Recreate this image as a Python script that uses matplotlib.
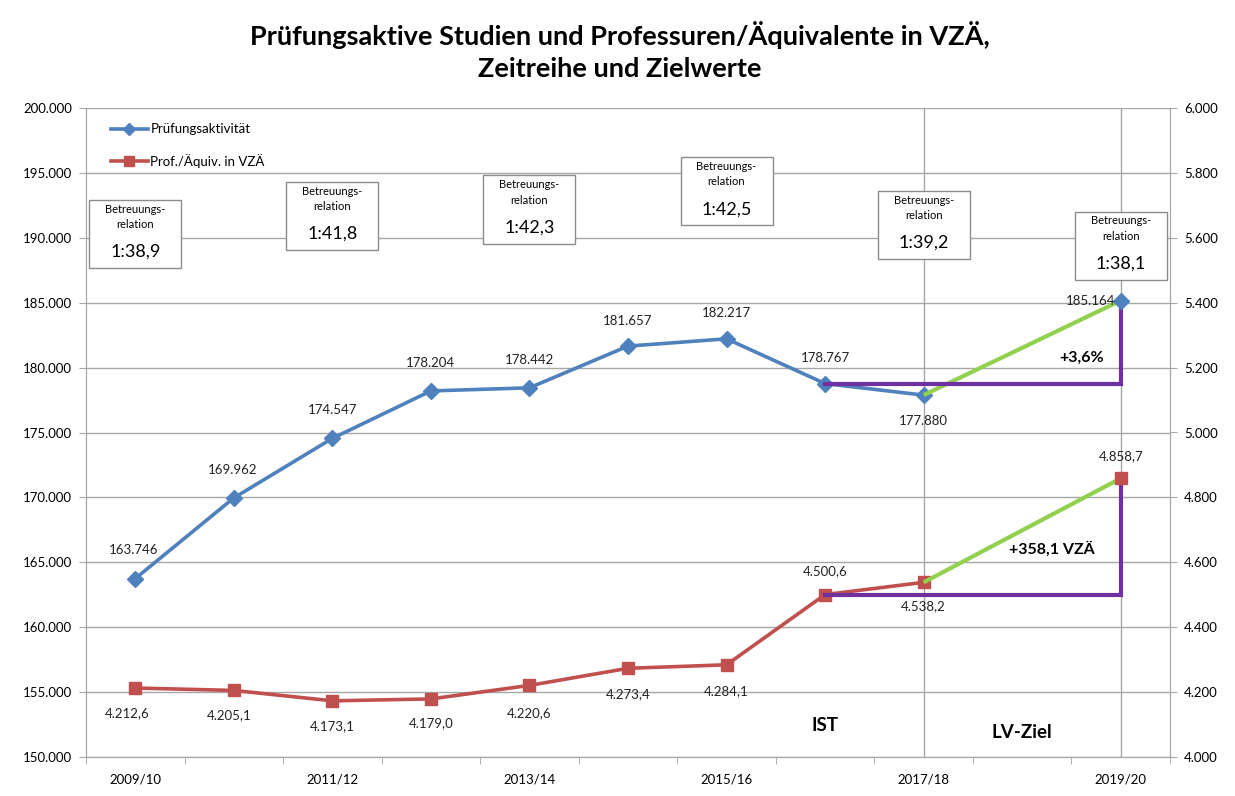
import matplotlib
matplotlib.use('Agg')
import matplotlib.pyplot as plt
from matplotlib.patches import Rectangle
from matplotlib.lines import Line2D
from matplotlib.ticker import FuncFormatter, FixedLocator, MultipleLocator

plt.rcParams['font.family'] = ['Lato', 'DejaVu Sans']

# --- data -----------------------------------------------------------------
years = ['2009/10', '2010/11', '2011/12', '2012/13', '2013/14', '2014/15',
         '2015/16', '2016/17', '2017/18', '2018/19', '2019/20']
point_idx = [0, 1, 2, 3, 4, 5, 6, 7, 8, 10]          # no value for 2018/19
pruef = [163746, 169962, 174547, 178204, 178442, 181657, 182217, 178767,
         177880, 185164]
prof = [4212.6, 4205.1, 4173.1, 4179.0, 4220.6, 4273.4, 4284.1, 4500.6,
        4538.2, 4858.7]
ratio_idx = [0, 2, 4, 6, 8, 10]
ratios = ['1:38,9', '1:41,8', '1:42,3', '1:42,5', '1:39,2', '1:38,1']
ratio_box_top = [192900, 194300, 194800, 196200, 193600, 192000]
ist_end = 8      # last actual value (2017/18)
base_idx = 7     # base for the target comparison (2016/17)

BLUE = '#4F81BD'
RED = '#C0504D'
GREEN = '#92D050'
PURPLE = '#7030A0'
GRID = '#A6A6A6'


def de_int(v):
    return f'{v:,.0f}'.replace(',', '.')


def de_dec(v):
    return f'{v:,.1f}'.replace(',', 'X').replace('.', ',').replace('X', '.')


fig = plt.figure(figsize=(12.35, 7.96), dpi=100)
ax = fig.add_axes([86 / 1235, 1 - 757 / 796, (1170 - 86) / 1235, (757 - 108) / 796])
ax2 = ax.twinx()

ax.set_xlim(-0.5, len(years) - 0.5)
ax.set_ylim(150000, 200000)
ax2.set_ylim(4000, 6000)
ax.yaxis.set_major_locator(MultipleLocator(5000))
ax2.yaxis.set_major_locator(MultipleLocator(200))
ax.yaxis.set_major_formatter(FuncFormatter(lambda v, p: de_int(v)))
ax2.yaxis.set_major_formatter(FuncFormatter(lambda v, p: de_int(v)))

ax.xaxis.set_major_locator(FixedLocator(range(0, len(years), 2)))
ax.set_xticklabels(years[::2])
ax.xaxis.set_minor_locator(FixedLocator([i - 0.5 for i in range(len(years) + 1)]))
ax.tick_params(axis='x', which='major', length=0, pad=12, labelsize=9.5)
ax.tick_params(axis='x', which='minor', length=5, color=GRID)
ax.tick_params(axis='y', length=5, color=GRID, labelsize=9.5, pad=5)
ax2.tick_params(axis='y', length=5, color=GRID, labelsize=9.5, pad=5)

for a in (ax, ax2):
    for s in a.spines.values():
        s.set_color(GRID)
    a.spines['top'].set_visible(False)

ax.grid(axis='y', color=GRID, linewidth=1)
ax.set_axisbelow(True)
ax.axvline(ist_end, color=GRID, linewidth=1, zorder=0)
ax.axvline(point_idx[-1], color=GRID, linewidth=1, zorder=0)

# --- blue series (left axis) ----------------------------------------------
n_ist = point_idx.index(ist_end) + 1
ax.plot(point_idx[:n_ist], pruef[:n_ist], color=BLUE, lw=2.6, marker='D',
        markersize=8, zorder=3)
ax.plot(point_idx[-1], pruef[-1], color=BLUE, marker='D', markersize=8, zorder=5)
ax.plot([ist_end, point_idx[-1]], [pruef[n_ist - 1], pruef[-1]], color=GREEN,
        lw=3, zorder=4, solid_capstyle='butt')
b = point_idx.index(base_idx)
ax.plot([base_idx, point_idx[-1], point_idx[-1]], [pruef[b], pruef[b], pruef[-1]],
        color=PURPLE, lw=3, zorder=4, solid_joinstyle='miter')

# --- red series (right axis) ----------------------------------------------
ax2.plot(point_idx[:n_ist], prof[:n_ist], color=RED, lw=2.6, marker='s',
         markersize=8, zorder=3)
ax2.plot(point_idx[-1], prof[-1], color=RED, marker='s', markersize=8, zorder=5)
ax2.plot([ist_end, point_idx[-1]], [prof[n_ist - 1], prof[-1]], color=GREEN,
         lw=3, zorder=4, solid_capstyle='butt')
ax2.plot([base_idx, point_idx[-1], point_idx[-1]], [prof[b], prof[b], prof[-1]],
         color=PURPLE, lw=3, zorder=4, solid_joinstyle='miter')

# --- data labels ------------------------------------------------------------
blue_off = [(-2, 29), (-1, 28), (0, 28), (0, 28), (0, 28), (0, 25), (0, 26),
            (0, 26), (0, -26), (-5, 0)]
for i, (x, v) in enumerate(zip(point_idx, pruef)):
    dx, dy = blue_off[i]
    ax2.annotate(de_int(v), (x, v), xycoords=ax.transData, xytext=(dx, dy),
                 textcoords='offset pixels', ha='right' if i == len(pruef) - 1 else 'center',
                 va='center', fontsize=9.5, color='#222222', zorder=6)
red_off = [(-8, -25), (-5, -25), (0, -25), (0, -24), (0, -28), (0, -26), (0, -26),
           (0, 23), (0, -24), (0, 22)]
for i, (x, v) in enumerate(zip(point_idx, prof)):
    dx, dy = red_off[i]
    ax2.annotate(de_dec(v), (x, v), xytext=(dx, dy), textcoords='offset pixels',
                 ha='center', va='center', fontsize=9.5, color='#222222', zorder=6)

# --- Betreuungsrelation boxes ---------------------------------------------
for x, r, top in zip(ratio_idx, ratios, ratio_box_top):
    h = 5250
    ax2.add_patch(Rectangle((x - 0.467, top - h), 0.934, h, transform=ax.transData,
                            facecolor='white', edgecolor='#8C8C8C', lw=1, zorder=7))
    ax2.text(x, top - 1300, 'Betreuungs-\nrelation', transform=ax.transData,
             ha='center', va='center', fontsize=8, linespacing=1.5, zorder=8)
    ax2.text(x, top - 4000, r, transform=ax.transData, ha='center', va='center',
             fontsize=13, zorder=8)

# --- annotations -------------------------------------------------------------
ax.text(9.6, 180750, '+3,6%', ha='center', va='center', fontsize=11.5,
        fontweight='bold', zorder=6)
ax2.text(9.3, 4640, '+358,1 VZÄ', ha='center', va='center', fontsize=11.5,
         fontweight='bold', zorder=6)
ax.text(7.0, 152450, 'IST', ha='center', va='center', fontsize=13.5,
        fontweight='bold')
ax.text(9.0, 151900, 'LV-Ziel', ha='center', va='center', fontsize=13.5,
        fontweight='bold')

# --- legend -------------------------------------------------------------------
handles = [Line2D([], [], color=BLUE, lw=2.6, marker='D', markersize=6),
           Line2D([], [], color=RED, lw=2.6, marker='s', markersize=7)]
ax2.legend(handles, ['Prüfungsaktivität', 'Prof./Äquiv. in VZÄ'], loc='upper left',
           bbox_to_anchor=(0.012, 0.995), frameon=False, fontsize=9.5,
           labelspacing=1.4, handlelength=2.8, handletextpad=0.2)

fig.suptitle('Prüfungsaktive Studien und Professuren/Äquivalente in VZÄ,\n'
             'Zeitreihe und Zielwerte', x=0.502, y=0.973, fontsize=19.5,
             fontweight='bold', linespacing=1.4)

fig.savefig('out.png', dpi=100)
